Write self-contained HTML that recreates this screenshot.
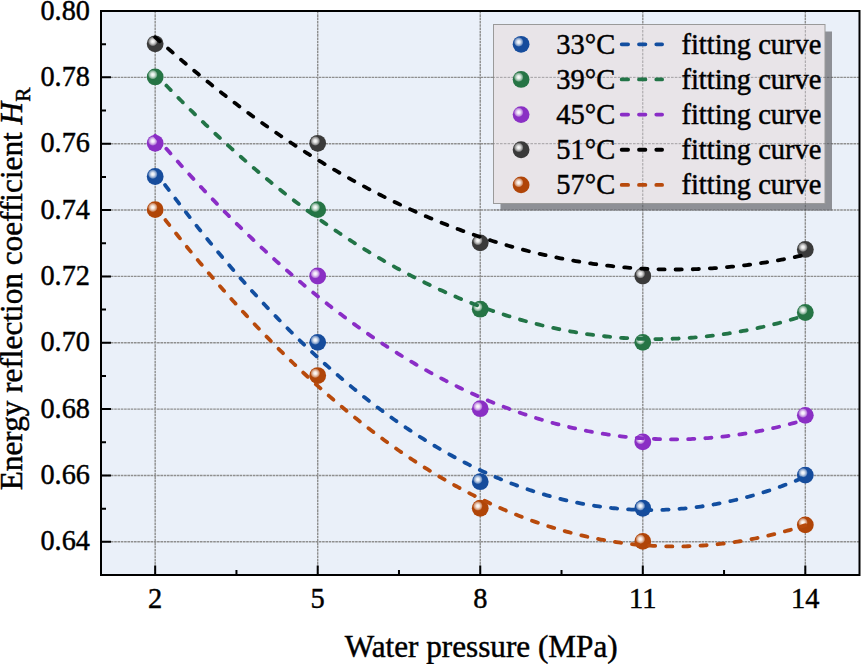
<!DOCTYPE html><html><head><meta charset="utf-8"><style>
html,body{margin:0;padding:0;background:#fff;}
svg{display:block;}
text{font-family:"Liberation Serif",serif;fill:#000;stroke:#000;stroke-width:0.45px;}
</style></head><body>
<svg width="861" height="664" viewBox="0 0 861 664">
<defs>
<radialGradient id="hl" cx="0.5" cy="0.5" r="0.5"><stop offset="0" stop-color="#fff"/><stop offset="0.35" stop-color="#fff" stop-opacity="0.85"/><stop offset="0.75" stop-color="#fff" stop-opacity="0.45"/><stop offset="1" stop-color="#fff" stop-opacity="0"/></radialGradient>
<clipPath id="lg"><rect x="493.5" y="24.5" width="339" height="186"/></clipPath>
</defs>
<rect x="101.0" y="11.0" width="758.5" height="564.0" fill="#EAF0F9"/>
<path d="M155.18,11.0V575.0M317.71,11.0V575.0M480.25,11.0V575.0M642.79,11.0V575.0M805.32,11.0V575.0M101.0,541.82H859.5M101.0,475.47H859.5M101.0,409.12H859.5M101.0,342.76H859.5M101.0,276.41H859.5M101.0,210.06H859.5M101.0,143.71H859.5M101.0,77.35H859.5" stroke="#8f8f8f" stroke-width="1.4" stroke-dasharray="2.6 0.7" fill="none"/>
<path d="M155.18,575.0v-9.5M317.71,575.0v-9.5M480.25,575.0v-9.5M642.79,575.0v-9.5M805.32,575.0v-9.5M236.45,575.0v-5M398.98,575.0v-5M561.52,575.0v-5M724.05,575.0v-5M101.0,541.82h10M101.0,475.47h10M101.0,409.12h10M101.0,342.76h10M101.0,276.41h10M101.0,210.06h10M101.0,143.71h10M101.0,77.35h10M101.0,11.00h10M101.0,575.00h5M101.0,508.65h5M101.0,442.29h5M101.0,375.94h5M101.0,309.59h5M101.0,243.24h5M101.0,176.88h5M101.0,110.53h5M101.0,44.18h5" stroke="#000" stroke-width="2" fill="none"/>
<circle cx="155.18" cy="176.48" r="8.4" fill="#164C9C"/><circle cx="152.78" cy="174.18" r="4.9" fill="url(#hl)"/>
<circle cx="317.71" cy="342.36" r="8.4" fill="#164C9C"/><circle cx="315.31" cy="340.06" r="4.9" fill="url(#hl)"/>
<circle cx="480.25" cy="481.71" r="8.4" fill="#164C9C"/><circle cx="477.85" cy="479.41" r="4.9" fill="url(#hl)"/>
<circle cx="642.79" cy="508.25" r="8.4" fill="#164C9C"/><circle cx="640.39" cy="505.95" r="4.9" fill="url(#hl)"/>
<circle cx="805.32" cy="475.07" r="8.4" fill="#164C9C"/><circle cx="802.92" cy="472.77" r="4.9" fill="url(#hl)"/>
<circle cx="155.18" cy="76.95" r="8.4" fill="#267445"/><circle cx="152.78" cy="74.65" r="4.9" fill="url(#hl)"/>
<circle cx="317.71" cy="209.66" r="8.4" fill="#267445"/><circle cx="315.31" cy="207.36" r="4.9" fill="url(#hl)"/>
<circle cx="480.25" cy="309.19" r="8.4" fill="#267445"/><circle cx="477.85" cy="306.89" r="4.9" fill="url(#hl)"/>
<circle cx="642.79" cy="342.36" r="8.4" fill="#267445"/><circle cx="640.39" cy="340.06" r="4.9" fill="url(#hl)"/>
<circle cx="805.32" cy="312.51" r="8.4" fill="#267445"/><circle cx="802.92" cy="310.21" r="4.9" fill="url(#hl)"/>
<circle cx="155.18" cy="143.31" r="8.4" fill="#8A2FC4"/><circle cx="152.78" cy="141.01" r="4.9" fill="url(#hl)"/>
<circle cx="317.71" cy="276.01" r="8.4" fill="#8A2FC4"/><circle cx="315.31" cy="273.71" r="4.9" fill="url(#hl)"/>
<circle cx="480.25" cy="408.72" r="8.4" fill="#8A2FC4"/><circle cx="477.85" cy="406.42" r="4.9" fill="url(#hl)"/>
<circle cx="642.79" cy="441.89" r="8.4" fill="#8A2FC4"/><circle cx="640.39" cy="439.59" r="4.9" fill="url(#hl)"/>
<circle cx="805.32" cy="415.35" r="8.4" fill="#8A2FC4"/><circle cx="802.92" cy="413.05" r="4.9" fill="url(#hl)"/>
<circle cx="155.18" cy="43.78" r="8.4" fill="#3A3A3A"/><circle cx="152.78" cy="41.48" r="4.9" fill="url(#hl)"/>
<circle cx="317.71" cy="143.31" r="8.4" fill="#3A3A3A"/><circle cx="315.31" cy="141.01" r="4.9" fill="url(#hl)"/>
<circle cx="480.25" cy="242.84" r="8.4" fill="#3A3A3A"/><circle cx="477.85" cy="240.54" r="4.9" fill="url(#hl)"/>
<circle cx="642.79" cy="276.01" r="8.4" fill="#3A3A3A"/><circle cx="640.39" cy="273.71" r="4.9" fill="url(#hl)"/>
<circle cx="805.32" cy="249.47" r="8.4" fill="#3A3A3A"/><circle cx="802.92" cy="247.17" r="4.9" fill="url(#hl)"/>
<circle cx="155.18" cy="209.66" r="8.4" fill="#B04508"/><circle cx="152.78" cy="207.36" r="4.9" fill="url(#hl)"/>
<circle cx="317.71" cy="375.54" r="8.4" fill="#B04508"/><circle cx="315.31" cy="373.24" r="4.9" fill="url(#hl)"/>
<circle cx="480.25" cy="508.25" r="8.4" fill="#B04508"/><circle cx="477.85" cy="505.95" r="4.9" fill="url(#hl)"/>
<circle cx="642.79" cy="541.42" r="8.4" fill="#B04508"/><circle cx="640.39" cy="539.12" r="4.9" fill="url(#hl)"/>
<circle cx="805.32" cy="524.84" r="8.4" fill="#B04508"/><circle cx="802.92" cy="522.54" r="4.9" fill="url(#hl)"/>
<path d="M165.04,184.93 L165.47,185.51 L167.64,188.40 L169.81,191.28 L171.97,194.15 L174.14,197.01 L176.31,199.85 L178.48,202.68 L180.64,205.50 L182.81,208.31 L184.98,211.10 L187.14,213.88 L189.31,216.64 L191.48,219.40 L193.65,222.14 L195.81,224.86 L197.98,227.58 L200.15,230.28 L202.31,232.97 L204.48,235.64 L206.65,238.30 L208.82,240.95 L210.98,243.59 L213.15,246.21 L215.32,248.82 L217.48,251.42 L219.65,254.00 L221.82,256.58 L223.99,259.13 L226.15,261.68 L228.32,264.21 L230.49,266.73 L232.65,269.24 L234.82,271.73 L236.99,274.21 L239.16,276.68 L241.32,279.13 L243.49,281.57 L245.66,284.00 L247.82,286.42 L249.99,288.82 L252.16,291.21 L254.33,293.59 L256.49,295.95 L258.66,298.30 L260.83,300.64 L262.99,302.96 L265.16,305.28 L267.33,307.57 L269.50,309.86 L271.66,312.13 L273.83,314.39 L276.00,316.64 L278.16,318.87 L280.33,321.09 L282.50,323.30 L284.67,325.50 L286.83,327.68 L289.00,329.85 L291.17,332.00 L293.33,334.15 L295.50,336.28 L297.67,338.39 L299.84,340.50 L302.00,342.59 L304.17,344.67 L306.34,346.73 L308.50,348.79 L310.67,350.82 L312.84,352.85 L315.01,354.86 L317.17,356.86 L319.34,358.85 L321.51,360.83 L323.67,362.79 L325.84,364.74 L328.01,366.67 L330.18,368.59 L332.34,370.50 L334.51,372.40 L336.68,374.28 L338.84,376.15 L341.01,378.01 L343.18,379.86 L345.35,381.69 L347.51,383.51 L349.68,385.31 L351.85,387.10 L354.01,388.88 L356.18,390.65 L358.35,392.40 L360.52,394.15 L362.68,395.87 L364.85,397.59 L367.02,399.29 L369.18,400.98 L371.35,402.66 L373.52,404.32 L375.69,405.97 L377.85,407.61 L380.02,409.23 L382.19,410.84 L384.35,412.44 L386.52,414.02 L388.69,415.60 L390.86,417.15 L393.02,418.70 L395.19,420.23 L397.36,421.75 L399.52,423.26 L401.69,424.76 L403.86,426.24 L406.03,427.71 L408.19,429.16 L410.36,430.60 L412.53,432.03 L414.69,433.45 L416.86,434.85 L419.03,436.24 L421.20,437.62 L423.36,438.98 L425.53,440.34 L427.70,441.67 L429.86,443.00 L432.03,444.31 L434.20,445.61 L436.37,446.90 L438.53,448.17 L440.70,449.43 L442.87,450.68 L445.03,451.92 L447.20,453.14 L449.37,454.35 L451.54,455.54 L453.70,456.73 L455.87,457.90 L458.04,459.05 L460.20,460.20 L462.37,461.33 L464.54,462.45 L466.71,463.55 L468.87,464.64 L471.04,465.72 L473.21,466.79 L475.37,467.84 L477.54,468.88 L479.71,469.91 L481.88,470.92 L484.04,471.92 L486.21,472.91 L488.38,473.89 L490.54,474.85 L492.71,475.80 L494.88,476.73 L497.05,477.66 L499.21,478.57 L501.38,479.47 L503.55,480.35 L505.71,481.22 L507.88,482.08 L510.05,482.93 L512.22,483.76 L514.38,484.58 L516.55,485.38 L518.72,486.18 L520.88,486.96 L523.05,487.73 L525.22,488.48 L527.39,489.22 L529.55,489.95 L531.72,490.67 L533.89,491.37 L536.05,492.06 L538.22,492.74 L540.39,493.40 L542.56,494.05 L544.72,494.69 L546.89,495.31 L549.06,495.93 L551.22,496.52 L553.39,497.11 L555.56,497.68 L557.73,498.24 L559.89,498.79 L562.06,499.32 L564.23,499.85 L566.39,500.35 L568.56,500.85 L570.73,501.33 L572.90,501.80 L575.06,502.26 L577.23,502.70 L579.40,503.13 L581.56,503.55 L583.73,503.95 L585.90,504.34 L588.07,504.72 L590.23,505.09 L592.40,505.44 L594.57,505.78 L596.73,506.10 L598.90,506.42 L601.07,506.72 L603.24,507.01 L605.40,507.28 L607.57,507.54 L609.74,507.79 L611.90,508.03 L614.07,508.25 L616.24,508.46 L618.41,508.66 L620.57,508.84 L622.74,509.01 L624.91,509.17 L627.07,509.31 L629.24,509.44 L631.41,509.56 L633.58,509.67 L635.74,509.76 L637.91,509.84 L640.08,509.91 L642.24,509.96 L644.41,510.00 L646.58,510.03 L648.75,510.05 L650.91,510.05 L653.08,510.04 L655.25,510.01 L657.41,509.98 L659.58,509.93 L661.75,509.86 L663.92,509.79 L666.08,509.70 L668.25,509.60 L670.42,509.48 L672.58,509.36 L674.75,509.22 L676.92,509.06 L679.09,508.89 L681.25,508.72 L683.42,508.52 L685.59,508.32 L687.75,508.10 L689.92,507.87 L692.09,507.62 L694.26,507.37 L696.42,507.09 L698.59,506.81 L700.76,506.51 L702.92,506.21 L705.09,505.88 L707.26,505.55 L709.43,505.20 L711.59,504.84 L713.76,504.46 L715.93,504.08 L718.09,503.68 L720.26,503.26 L722.43,502.84 L724.60,502.40 L726.76,501.95 L728.93,501.48 L731.10,501.00 L733.26,500.51 L735.43,500.01 L737.60,499.49 L739.77,498.96 L741.93,498.42 L744.10,497.86 L746.27,497.29 L748.43,496.71 L750.60,496.12 L752.77,495.51 L754.94,494.89 L757.10,494.25 L759.27,493.61 L761.44,492.95 L763.60,492.28 L765.77,491.59 L767.94,490.89 L770.11,490.18 L772.27,489.46 L774.44,488.72 L776.61,487.97 L778.77,487.20 L780.94,486.43 L783.11,485.64 L785.28,484.84 L787.44,484.02 L789.61,483.19 L791.78,482.35 L793.94,481.50 L796.11,480.63 L798.28,479.75 L800.45,478.85 L802.61,477.95 L804.78,477.03 L805.32,476.80" fill="none" stroke="#124EA0" stroke-width="3.8" stroke-linecap="round" stroke-dasharray="6.2 10.95"/>
<path d="M166.43,85.64 L166.56,85.77 L168.72,88.00 L170.89,90.23 L173.06,92.45 L175.22,94.66 L177.39,96.86 L179.56,99.05 L181.73,101.23 L183.89,103.40 L186.06,105.56 L188.23,107.71 L190.39,109.85 L192.56,111.98 L194.73,114.10 L196.90,116.21 L199.06,118.31 L201.23,120.40 L203.40,122.48 L205.56,124.55 L207.73,126.61 L209.90,128.66 L212.07,130.70 L214.23,132.73 L216.40,134.75 L218.57,136.76 L220.73,138.76 L222.90,140.75 L225.07,142.74 L227.24,144.71 L229.40,146.67 L231.57,148.62 L233.74,150.56 L235.90,152.49 L238.07,154.41 L240.24,156.32 L242.41,158.22 L244.57,160.12 L246.74,162.00 L248.91,163.87 L251.07,165.73 L253.24,167.58 L255.41,169.42 L257.58,171.25 L259.74,173.08 L261.91,174.89 L264.08,176.69 L266.24,178.48 L268.41,180.26 L270.58,182.04 L272.75,183.80 L274.91,185.55 L277.08,187.29 L279.25,189.02 L281.41,190.75 L283.58,192.46 L285.75,194.16 L287.92,195.85 L290.08,197.54 L292.25,199.21 L294.42,200.87 L296.58,202.52 L298.75,204.17 L300.92,205.80 L303.09,207.42 L305.25,209.03 L307.42,210.64 L309.59,212.23 L311.75,213.81 L313.92,215.39 L316.09,216.95 L318.26,218.50 L320.42,220.05 L322.59,221.58 L324.76,223.10 L326.92,224.62 L329.09,226.12 L331.26,227.61 L333.43,229.10 L335.59,230.57 L337.76,232.04 L339.93,233.49 L342.09,234.93 L344.26,236.37 L346.43,237.79 L348.60,239.20 L350.76,240.61 L352.93,242.00 L355.10,243.39 L357.26,244.76 L359.43,246.13 L361.60,247.48 L363.77,248.82 L365.93,250.16 L368.10,251.48 L370.27,252.80 L372.43,254.10 L374.60,255.40 L376.77,256.68 L378.94,257.96 L381.10,259.22 L383.27,260.48 L385.44,261.72 L387.60,262.96 L389.77,264.18 L391.94,265.40 L394.11,266.60 L396.27,267.80 L398.44,268.98 L400.61,270.16 L402.77,271.32 L404.94,272.48 L407.11,273.63 L409.28,274.76 L411.44,275.89 L413.61,277.00 L415.78,278.11 L417.94,279.21 L420.11,280.29 L422.28,281.37 L424.45,282.43 L426.61,283.49 L428.78,284.54 L430.95,285.57 L433.11,286.60 L435.28,287.61 L437.45,288.62 L439.62,289.62 L441.78,290.60 L443.95,291.58 L446.12,292.55 L448.28,293.50 L450.45,294.45 L452.62,295.39 L454.79,296.31 L456.95,297.23 L459.12,298.14 L461.29,299.04 L463.45,299.92 L465.62,300.80 L467.79,301.67 L469.96,302.52 L472.12,303.37 L474.29,304.21 L476.46,305.04 L478.62,305.85 L480.79,306.66 L482.96,307.46 L485.13,308.25 L487.29,309.02 L489.46,309.79 L491.63,310.55 L493.79,311.30 L495.96,312.04 L498.13,312.76 L500.30,313.48 L502.46,314.19 L504.63,314.89 L506.80,315.58 L508.96,316.25 L511.13,316.92 L513.30,317.58 L515.47,318.23 L517.63,318.87 L519.80,319.50 L521.97,320.12 L524.13,320.72 L526.30,321.32 L528.47,321.91 L530.64,322.49 L532.80,323.06 L534.97,323.62 L537.14,324.17 L539.30,324.71 L541.47,325.24 L543.64,325.76 L545.81,326.26 L547.97,326.76 L550.14,327.25 L552.31,327.73 L554.47,328.20 L556.64,328.66 L558.81,329.11 L560.98,329.55 L563.14,329.98 L565.31,330.40 L567.48,330.81 L569.64,331.21 L571.81,331.60 L573.98,331.98 L576.15,332.35 L578.31,332.71 L580.48,333.06 L582.65,333.40 L584.81,333.73 L586.98,334.05 L589.15,334.36 L591.32,334.66 L593.48,334.95 L595.65,335.23 L597.82,335.51 L599.98,335.77 L602.15,336.02 L604.32,336.26 L606.49,336.49 L608.65,336.71 L610.82,336.92 L612.99,337.12 L615.15,337.31 L617.32,337.49 L619.49,337.67 L621.66,337.83 L623.82,337.98 L625.99,338.12 L628.16,338.25 L630.32,338.37 L632.49,338.48 L634.66,338.59 L636.83,338.68 L638.99,338.76 L641.16,338.83 L643.33,338.89 L645.49,338.94 L647.66,338.99 L649.83,339.02 L652.00,339.04 L654.16,339.05 L656.33,339.06 L658.50,339.05 L660.66,339.03 L662.83,339.00 L665.00,338.96 L667.17,338.92 L669.33,338.86 L671.50,338.79 L673.67,338.72 L675.83,338.63 L678.00,338.53 L680.17,338.42 L682.34,338.31 L684.50,338.18 L686.67,338.04 L688.84,337.90 L691.00,337.74 L693.17,337.57 L695.34,337.40 L697.51,337.21 L699.67,337.01 L701.84,336.81 L704.01,336.59 L706.17,336.36 L708.34,336.13 L710.51,335.88 L712.68,335.62 L714.84,335.36 L717.01,335.08 L719.18,334.80 L721.34,334.50 L723.51,334.19 L725.68,333.88 L727.85,333.55 L730.01,333.22 L732.18,332.87 L734.35,332.51 L736.51,332.15 L738.68,331.77 L740.85,331.39 L743.02,330.99 L745.18,330.59 L747.35,330.17 L749.52,329.75 L751.68,329.31 L753.85,328.87 L756.02,328.41 L758.19,327.95 L760.35,327.47 L762.52,326.99 L764.69,326.49 L766.85,325.99 L769.02,325.47 L771.19,324.95 L773.36,324.41 L775.52,323.87 L777.69,323.31 L779.86,322.75 L782.02,322.17 L784.19,321.59 L786.36,320.99 L788.53,320.39 L790.69,319.78 L792.86,319.15 L795.03,318.52 L797.19,317.87 L799.36,317.22 L801.53,316.56 L803.70,315.88 L805.32,315.37" fill="none" stroke="#227447" stroke-width="3.8" stroke-linecap="round" stroke-dasharray="6.2 10.95"/>
<path d="M155.18,135.74 L155.18,135.74 L157.35,138.28 L159.51,140.80 L161.68,143.31 L163.85,145.82 L166.01,148.31 L168.18,150.79 L170.35,153.26 L172.52,155.72 L174.68,158.17 L176.85,160.60 L179.02,163.03 L181.18,165.45 L183.35,167.85 L185.52,170.25 L187.69,172.64 L189.85,175.01 L192.02,177.37 L194.19,179.73 L196.35,182.07 L198.52,184.40 L200.69,186.72 L202.86,189.03 L205.02,191.33 L207.19,193.62 L209.36,195.90 L211.52,198.17 L213.69,200.43 L215.86,202.68 L218.03,204.91 L220.19,207.14 L222.36,209.35 L224.53,211.56 L226.69,213.75 L228.86,215.94 L231.03,218.11 L233.20,220.27 L235.36,222.42 L237.53,224.56 L239.70,226.69 L241.86,228.81 L244.03,230.92 L246.20,233.02 L248.37,235.11 L250.53,237.19 L252.70,239.25 L254.87,241.31 L257.03,243.36 L259.20,245.39 L261.37,247.41 L263.54,249.43 L265.70,251.43 L267.87,253.42 L270.04,255.41 L272.20,257.38 L274.37,259.34 L276.54,261.29 L278.71,263.23 L280.87,265.15 L283.04,267.07 L285.21,268.98 L287.37,270.88 L289.54,272.76 L291.71,274.64 L293.88,276.50 L296.04,278.36 L298.21,280.20 L300.38,282.03 L302.54,283.86 L304.71,285.67 L306.88,287.47 L309.05,289.26 L311.21,291.04 L313.38,292.81 L315.55,294.57 L317.71,296.32 L319.88,298.06 L322.05,299.78 L324.22,301.50 L326.38,303.20 L328.55,304.90 L330.72,306.58 L332.88,308.26 L335.05,309.92 L337.22,311.57 L339.39,313.22 L341.55,314.85 L343.72,316.47 L345.89,318.08 L348.05,319.68 L350.22,321.27 L352.39,322.84 L354.56,324.41 L356.72,325.97 L358.89,327.52 L361.06,329.05 L363.22,330.58 L365.39,332.09 L367.56,333.60 L369.73,335.09 L371.89,336.57 L374.06,338.04 L376.23,339.51 L378.39,340.96 L380.56,342.40 L382.73,343.83 L384.90,345.25 L387.06,346.65 L389.23,348.05 L391.40,349.44 L393.56,350.82 L395.73,352.18 L397.90,353.54 L400.07,354.88 L402.23,356.22 L404.40,357.54 L406.57,358.85 L408.73,360.15 L410.90,361.45 L413.07,362.73 L415.24,364.00 L417.40,365.26 L419.57,366.51 L421.74,367.75 L423.90,368.97 L426.07,370.19 L428.24,371.40 L430.41,372.59 L432.57,373.78 L434.74,374.95 L436.91,376.12 L439.07,377.27 L441.24,378.41 L443.41,379.55 L445.58,380.67 L447.74,381.78 L449.91,382.88 L452.08,383.97 L454.24,385.05 L456.41,386.12 L458.58,387.18 L460.75,388.22 L462.91,389.26 L465.08,390.29 L467.25,391.30 L469.41,392.31 L471.58,393.30 L473.75,394.29 L475.92,395.26 L478.08,396.22 L480.25,397.17 L482.42,398.12 L484.58,399.05 L486.75,399.97 L488.92,400.88 L491.09,401.77 L493.25,402.66 L495.42,403.54 L497.59,404.41 L499.75,405.26 L501.92,406.11 L504.09,406.94 L506.26,407.77 L508.42,408.58 L510.59,409.39 L512.76,410.18 L514.92,410.96 L517.09,411.73 L519.26,412.49 L521.43,413.24 L523.59,413.98 L525.76,414.71 L527.93,415.43 L530.09,416.14 L532.26,416.84 L534.43,417.52 L536.60,418.20 L538.76,418.86 L540.93,419.52 L543.10,420.16 L545.26,420.80 L547.43,421.42 L549.60,422.03 L551.77,422.63 L553.93,423.22 L556.10,423.80 L558.27,424.37 L560.43,424.93 L562.60,425.48 L564.77,426.02 L566.94,426.55 L569.10,427.06 L571.27,427.57 L573.44,428.06 L575.60,428.55 L577.77,429.02 L579.94,429.49 L582.11,429.94 L584.27,430.38 L586.44,430.81 L588.61,431.24 L590.77,431.65 L592.94,432.05 L595.11,432.43 L597.28,432.81 L599.44,433.18 L601.61,433.54 L603.78,433.89 L605.94,434.22 L608.11,434.55 L610.28,434.86 L612.45,435.17 L614.61,435.46 L616.78,435.74 L618.95,436.02 L621.11,436.28 L623.28,436.53 L625.45,436.77 L627.62,437.00 L629.78,437.22 L631.95,437.43 L634.12,437.63 L636.28,437.81 L638.45,437.99 L640.62,438.16 L642.79,438.31 L644.95,438.46 L647.12,438.59 L649.29,438.72 L651.45,438.83 L653.62,438.93 L655.79,439.02 L657.96,439.11 L660.12,439.18 L662.29,439.24 L664.46,439.29 L666.62,439.33 L668.79,439.35 L670.96,439.37 L673.13,439.38 L675.29,439.37 L677.46,439.36 L679.63,439.34 L681.79,439.30 L683.96,439.25 L686.13,439.20 L688.30,439.13 L690.46,439.05 L692.63,438.96 L694.80,438.86 L696.96,438.76 L699.13,438.63 L701.30,438.50 L703.47,438.36 L705.63,438.21 L707.80,438.05 L709.97,437.87 L712.13,437.69 L714.30,437.50 L716.47,437.29 L718.64,437.07 L720.80,436.85 L722.97,436.61 L725.14,436.36 L727.30,436.10 L729.47,435.84 L731.64,435.56 L733.81,435.27 L735.97,434.97 L738.14,434.65 L740.31,434.33 L742.47,434.00 L744.64,433.66 L746.81,433.30 L748.98,432.94 L751.14,432.56 L753.31,432.18 L755.48,431.78 L757.64,431.37 L759.81,430.96 L761.98,430.53 L764.15,430.09 L766.31,429.64 L768.48,429.18 L770.65,428.71 L772.81,428.23 L774.98,427.74 L777.15,427.23 L779.32,426.72 L781.48,426.20 L783.65,425.66 L785.82,425.12 L787.98,424.56 L790.15,423.99 L792.32,423.42 L794.49,422.83 L796.65,422.23 L798.82,421.62 L800.99,421.00 L803.15,420.37 L805.32,419.73" fill="none" stroke="#8A2DC6" stroke-width="3.8" stroke-linecap="round" stroke-dasharray="6.2 10.95"/>
<path d="M155.18,37.16 L155.18,37.16 L157.35,39.10 L159.51,41.02 L161.68,42.94 L163.85,44.85 L166.01,46.75 L168.18,48.65 L170.35,50.54 L172.52,52.41 L174.68,54.28 L176.85,56.15 L179.02,58.00 L181.18,59.84 L183.35,61.68 L185.52,63.51 L187.69,65.33 L189.85,67.15 L192.02,68.95 L194.19,70.75 L196.35,72.54 L198.52,74.32 L200.69,76.09 L202.86,77.86 L205.02,79.61 L207.19,81.36 L209.36,83.10 L211.52,84.84 L213.69,86.56 L215.86,88.28 L218.03,89.99 L220.19,91.69 L222.36,93.38 L224.53,95.06 L226.69,96.74 L228.86,98.40 L231.03,100.06 L233.20,101.72 L235.36,103.36 L237.53,105.00 L239.70,106.62 L241.86,108.24 L244.03,109.85 L246.20,111.46 L248.37,113.05 L250.53,114.64 L252.70,116.22 L254.87,117.79 L257.03,119.35 L259.20,120.90 L261.37,122.45 L263.54,123.99 L265.70,125.52 L267.87,127.04 L270.04,128.56 L272.20,130.06 L274.37,131.56 L276.54,133.05 L278.71,134.53 L280.87,136.01 L283.04,137.47 L285.21,138.93 L287.37,140.38 L289.54,141.82 L291.71,143.25 L293.88,144.68 L296.04,146.09 L298.21,147.50 L300.38,148.90 L302.54,150.30 L304.71,151.68 L306.88,153.06 L309.05,154.43 L311.21,155.79 L313.38,157.14 L315.55,158.48 L317.71,159.82 L319.88,161.15 L322.05,162.47 L324.22,163.78 L326.38,165.08 L328.55,166.38 L330.72,167.67 L332.88,168.95 L335.05,170.22 L337.22,171.48 L339.39,172.74 L341.55,173.98 L343.72,175.22 L345.89,176.45 L348.05,177.68 L350.22,178.89 L352.39,180.10 L354.56,181.30 L356.72,182.49 L358.89,183.67 L361.06,184.84 L363.22,186.01 L365.39,187.17 L367.56,188.32 L369.73,189.46 L371.89,190.60 L374.06,191.72 L376.23,192.84 L378.39,193.95 L380.56,195.05 L382.73,196.14 L384.90,197.23 L387.06,198.31 L389.23,199.38 L391.40,200.44 L393.56,201.49 L395.73,202.53 L397.90,203.57 L400.07,204.60 L402.23,205.62 L404.40,206.63 L406.57,207.64 L408.73,208.63 L410.90,209.62 L413.07,210.60 L415.24,211.58 L417.40,212.54 L419.57,213.50 L421.74,214.44 L423.90,215.38 L426.07,216.31 L428.24,217.24 L430.41,218.15 L432.57,219.06 L434.74,219.96 L436.91,220.85 L439.07,221.74 L441.24,222.61 L443.41,223.48 L445.58,224.34 L447.74,225.19 L449.91,226.03 L452.08,226.86 L454.24,227.69 L456.41,228.51 L458.58,229.32 L460.75,230.12 L462.91,230.92 L465.08,231.70 L467.25,232.48 L469.41,233.25 L471.58,234.01 L473.75,234.77 L475.92,235.51 L478.08,236.25 L480.25,236.98 L482.42,237.70 L484.58,238.41 L486.75,239.12 L488.92,239.82 L491.09,240.51 L493.25,241.19 L495.42,241.86 L497.59,242.52 L499.75,243.18 L501.92,243.83 L504.09,244.47 L506.26,245.10 L508.42,245.73 L510.59,246.34 L512.76,246.95 L514.92,247.55 L517.09,248.14 L519.26,248.73 L521.43,249.30 L523.59,249.87 L525.76,250.43 L527.93,250.98 L530.09,251.53 L532.26,252.06 L534.43,252.59 L536.60,253.11 L538.76,253.62 L540.93,254.12 L543.10,254.62 L545.26,255.10 L547.43,255.58 L549.60,256.05 L551.77,256.51 L553.93,256.97 L556.10,257.42 L558.27,257.85 L560.43,258.28 L562.60,258.71 L564.77,259.12 L566.94,259.53 L569.10,259.92 L571.27,260.31 L573.44,260.70 L575.60,261.07 L577.77,261.43 L579.94,261.79 L582.11,262.14 L584.27,262.48 L586.44,262.82 L588.61,263.14 L590.77,263.46 L592.94,263.77 L595.11,264.07 L597.28,264.36 L599.44,264.65 L601.61,264.92 L603.78,265.19 L605.94,265.45 L608.11,265.70 L610.28,265.95 L612.45,266.18 L614.61,266.41 L616.78,266.63 L618.95,266.84 L621.11,267.05 L623.28,267.24 L625.45,267.43 L627.62,267.61 L629.78,267.78 L631.95,267.94 L634.12,268.10 L636.28,268.25 L638.45,268.39 L640.62,268.52 L642.79,268.64 L644.95,268.75 L647.12,268.86 L649.29,268.96 L651.45,269.05 L653.62,269.13 L655.79,269.21 L657.96,269.27 L660.12,269.33 L662.29,269.38 L664.46,269.42 L666.62,269.46 L668.79,269.48 L670.96,269.50 L673.13,269.51 L675.29,269.51 L677.46,269.50 L679.63,269.49 L681.79,269.47 L683.96,269.44 L686.13,269.40 L688.30,269.35 L690.46,269.30 L692.63,269.23 L694.80,269.16 L696.96,269.08 L699.13,268.99 L701.30,268.90 L703.47,268.79 L705.63,268.68 L707.80,268.56 L709.97,268.44 L712.13,268.30 L714.30,268.16 L716.47,268.00 L718.64,267.84 L720.80,267.67 L722.97,267.50 L725.14,267.31 L727.30,267.12 L729.47,266.92 L731.64,266.71 L733.81,266.49 L735.97,266.27 L738.14,266.04 L740.31,265.80 L742.47,265.55 L744.64,265.29 L746.81,265.02 L748.98,264.75 L751.14,264.47 L753.31,264.18 L755.48,263.88 L757.64,263.57 L759.81,263.26 L761.98,262.94 L764.15,262.61 L766.31,262.27 L768.48,261.92 L770.65,261.57 L772.81,261.21 L774.98,260.84 L777.15,260.46 L779.32,260.07 L781.48,259.68 L783.65,259.27 L785.82,258.86 L787.98,258.44 L790.15,258.02 L792.32,257.58 L794.49,257.14 L796.65,256.69 L798.82,256.23 L800.99,255.76 L803.15,255.28 L805.32,254.80" fill="none" stroke="#000000" stroke-width="3.8" stroke-linecap="round" stroke-dasharray="6.2 10.95"/>
<path d="M165.45,220.03 L165.47,220.06 L167.64,222.82 L169.81,225.58 L171.97,228.33 L174.14,231.06 L176.31,233.78 L178.48,236.49 L180.64,239.19 L182.81,241.88 L184.98,244.55 L187.14,247.22 L189.31,249.87 L191.48,252.51 L193.65,255.13 L195.81,257.75 L197.98,260.35 L200.15,262.95 L202.31,265.53 L204.48,268.10 L206.65,270.65 L208.82,273.20 L210.98,275.73 L213.15,278.25 L215.32,280.76 L217.48,283.26 L219.65,285.75 L221.82,288.22 L223.99,290.68 L226.15,293.13 L228.32,295.57 L230.49,298.00 L232.65,300.41 L234.82,302.82 L236.99,305.21 L239.16,307.59 L241.32,309.96 L243.49,312.31 L245.66,314.66 L247.82,316.99 L249.99,319.31 L252.16,321.62 L254.33,323.92 L256.49,326.20 L258.66,328.48 L260.83,330.74 L262.99,332.99 L265.16,335.23 L267.33,337.45 L269.50,339.67 L271.66,341.87 L273.83,344.06 L276.00,346.24 L278.16,348.41 L280.33,350.56 L282.50,352.71 L284.67,354.84 L286.83,356.96 L289.00,359.07 L291.17,361.17 L293.33,363.25 L295.50,365.32 L297.67,367.39 L299.84,369.44 L302.00,371.47 L304.17,373.50 L306.34,375.51 L308.50,377.52 L310.67,379.51 L312.84,381.48 L315.01,383.45 L317.17,385.41 L319.34,387.35 L321.51,389.28 L323.67,391.20 L325.84,393.11 L328.01,395.01 L330.18,396.89 L332.34,398.76 L334.51,400.62 L336.68,402.47 L338.84,404.31 L341.01,406.14 L343.18,407.95 L345.35,409.75 L347.51,411.54 L349.68,413.32 L351.85,415.09 L354.01,416.84 L356.18,418.58 L358.35,420.31 L360.52,422.03 L362.68,423.74 L364.85,425.44 L367.02,427.12 L369.18,428.79 L371.35,430.45 L373.52,432.10 L375.69,433.74 L377.85,435.36 L380.02,436.98 L382.19,438.58 L384.35,440.17 L386.52,441.75 L388.69,443.31 L390.86,444.87 L393.02,446.41 L395.19,447.94 L397.36,449.46 L399.52,450.96 L401.69,452.46 L403.86,453.94 L406.03,455.41 L408.19,456.87 L410.36,458.32 L412.53,459.76 L414.69,461.18 L416.86,462.59 L419.03,464.00 L421.20,465.38 L423.36,466.76 L425.53,468.13 L427.70,469.48 L429.86,470.82 L432.03,472.15 L434.20,473.47 L436.37,474.78 L438.53,476.07 L440.70,477.35 L442.87,478.63 L445.03,479.88 L447.20,481.13 L449.37,482.37 L451.54,483.59 L453.70,484.80 L455.87,486.00 L458.04,487.19 L460.20,488.37 L462.37,489.53 L464.54,490.69 L466.71,491.83 L468.87,492.96 L471.04,494.08 L473.21,495.18 L475.37,496.28 L477.54,497.36 L479.71,498.43 L481.88,499.49 L484.04,500.53 L486.21,501.57 L488.38,502.59 L490.54,503.60 L492.71,504.60 L494.88,505.59 L497.05,506.57 L499.21,507.53 L501.38,508.48 L503.55,509.43 L505.71,510.35 L507.88,511.27 L510.05,512.18 L512.22,513.07 L514.38,513.95 L516.55,514.82 L518.72,515.68 L520.88,516.53 L523.05,517.36 L525.22,518.18 L527.39,518.99 L529.55,519.79 L531.72,520.58 L533.89,521.36 L536.05,522.12 L538.22,522.87 L540.39,523.61 L542.56,524.34 L544.72,525.06 L546.89,525.76 L549.06,526.46 L551.22,527.14 L553.39,527.81 L555.56,528.46 L557.73,529.11 L559.89,529.74 L562.06,530.37 L564.23,530.98 L566.39,531.58 L568.56,532.16 L570.73,532.74 L572.90,533.30 L575.06,533.85 L577.23,534.39 L579.40,534.92 L581.56,535.44 L583.73,535.94 L585.90,536.43 L588.07,536.91 L590.23,537.38 L592.40,537.84 L594.57,538.28 L596.73,538.72 L598.90,539.14 L601.07,539.55 L603.24,539.95 L605.40,540.33 L607.57,540.71 L609.74,541.07 L611.90,541.42 L614.07,541.76 L616.24,542.09 L618.41,542.40 L620.57,542.71 L622.74,543.00 L624.91,543.28 L627.07,543.55 L629.24,543.80 L631.41,544.05 L633.58,544.28 L635.74,544.50 L637.91,544.71 L640.08,544.91 L642.24,545.10 L644.41,545.27 L646.58,545.43 L648.75,545.58 L650.91,545.72 L653.08,545.85 L655.25,545.96 L657.41,546.07 L659.58,546.16 L661.75,546.24 L663.92,546.31 L666.08,546.36 L668.25,546.41 L670.42,546.44 L672.58,546.46 L674.75,546.47 L676.92,546.46 L679.09,546.45 L681.25,546.42 L683.42,546.39 L685.59,546.34 L687.75,546.27 L689.92,546.20 L692.09,546.11 L694.26,546.02 L696.42,545.91 L698.59,545.79 L700.76,545.65 L702.92,545.51 L705.09,545.35 L707.26,545.19 L709.43,545.01 L711.59,544.81 L713.76,544.61 L715.93,544.39 L718.09,544.17 L720.26,543.93 L722.43,543.68 L724.60,543.42 L726.76,543.14 L728.93,542.86 L731.10,542.56 L733.26,542.25 L735.43,541.93 L737.60,541.59 L739.77,541.25 L741.93,540.89 L744.10,540.52 L746.27,540.14 L748.43,539.75 L750.60,539.35 L752.77,538.93 L754.94,538.50 L757.10,538.06 L759.27,537.61 L761.44,537.15 L763.60,536.67 L765.77,536.19 L767.94,535.69 L770.11,535.18 L772.27,534.66 L774.44,534.12 L776.61,533.58 L778.77,533.02 L780.94,532.45 L783.11,531.87 L785.28,531.28 L787.44,530.67 L789.61,530.06 L791.78,529.43 L793.94,528.79 L796.11,528.14 L798.28,527.47 L800.45,526.80 L802.61,526.11 L804.78,525.41 L805.32,525.24" fill="none" stroke="#B84A0C" stroke-width="3.8" stroke-linecap="round" stroke-dasharray="6.2 10.95"/>
<rect x="101.0" y="11.0" width="758.5" height="564.0" fill="none" stroke="#000" stroke-width="2"/>
<rect x="500.5" y="31.5" width="331.5" height="179.0" fill="#8E9096"/>
<rect x="493.5" y="24.5" width="331.5" height="179.0" fill="#E8E4E8" stroke="#9a9a9a" stroke-width="1"/>
<path d="M155.18,11.0V575.0M317.71,11.0V575.0M480.25,11.0V575.0M642.79,11.0V575.0M805.32,11.0V575.0M101.0,541.82H859.5M101.0,475.47H859.5M101.0,409.12H859.5M101.0,342.76H859.5M101.0,276.41H859.5M101.0,210.06H859.5M101.0,143.71H859.5M101.0,77.35H859.5" clip-path="url(#lg)" stroke="#000" stroke-opacity="0.3" stroke-width="1" stroke-dasharray="2.6 1.2" fill="none"/>
<circle cx="521.10" cy="44.30" r="8.4" fill="#164C9C"/><circle cx="518.70" cy="42.00" r="4.9" fill="url(#hl)"/>
<text x="556.3" y="53.50" font-size="28.5">33°C</text>
<path d="M621.7,44.30H662.1" stroke="#124EA0" stroke-width="3.8" stroke-linecap="round" stroke-dasharray="6.4 10.9"/>
<text x="681.4" y="53.50" font-size="28.5">fitting curve</text>
<circle cx="521.10" cy="79.45" r="8.4" fill="#267445"/><circle cx="518.70" cy="77.15" r="4.9" fill="url(#hl)"/>
<text x="556.3" y="88.65" font-size="28.5">39°C</text>
<path d="M621.7,79.45H662.1" stroke="#227447" stroke-width="3.8" stroke-linecap="round" stroke-dasharray="6.4 10.9"/>
<text x="681.4" y="88.65" font-size="28.5">fitting curve</text>
<circle cx="521.10" cy="114.60" r="8.4" fill="#8A2FC4"/><circle cx="518.70" cy="112.30" r="4.9" fill="url(#hl)"/>
<text x="556.3" y="123.80" font-size="28.5">45°C</text>
<path d="M621.7,114.60H662.1" stroke="#8A2DC6" stroke-width="3.8" stroke-linecap="round" stroke-dasharray="6.4 10.9"/>
<text x="681.4" y="123.80" font-size="28.5">fitting curve</text>
<circle cx="521.10" cy="149.75" r="8.4" fill="#3A3A3A"/><circle cx="518.70" cy="147.45" r="4.9" fill="url(#hl)"/>
<text x="556.3" y="158.95" font-size="28.5">51°C</text>
<path d="M621.7,149.75H662.1" stroke="#000000" stroke-width="3.8" stroke-linecap="round" stroke-dasharray="6.4 10.9"/>
<text x="681.4" y="158.95" font-size="28.5">fitting curve</text>
<circle cx="521.10" cy="184.90" r="8.4" fill="#B04508"/><circle cx="518.70" cy="182.60" r="4.9" fill="url(#hl)"/>
<text x="556.3" y="194.10" font-size="28.5">57°C</text>
<path d="M621.7,184.90H662.1" stroke="#B84A0C" stroke-width="3.8" stroke-linecap="round" stroke-dasharray="6.4 10.9"/>
<text x="681.4" y="194.10" font-size="28.5">fitting curve</text>
<text transform="translate(89.9,550.42) scale(0.965,1.02)" font-size="29.3" text-anchor="end">0.64</text>
<text transform="translate(89.9,484.07) scale(0.965,1.02)" font-size="29.3" text-anchor="end">0.66</text>
<text transform="translate(89.9,417.72) scale(0.965,1.02)" font-size="29.3" text-anchor="end">0.68</text>
<text transform="translate(89.9,351.36) scale(0.965,1.02)" font-size="29.3" text-anchor="end">0.70</text>
<text transform="translate(89.9,285.01) scale(0.965,1.02)" font-size="29.3" text-anchor="end">0.72</text>
<text transform="translate(89.9,218.66) scale(0.965,1.02)" font-size="29.3" text-anchor="end">0.74</text>
<text transform="translate(89.9,152.31) scale(0.965,1.02)" font-size="29.3" text-anchor="end">0.76</text>
<text transform="translate(89.9,85.95) scale(0.965,1.02)" font-size="29.3" text-anchor="end">0.78</text>
<text transform="translate(89.9,19.60) scale(0.965,1.02)" font-size="29.3" text-anchor="end">0.80</text>
<text transform="translate(155.18,607.8) scale(0.97,1.03)" font-size="29.3" text-anchor="middle">2</text>
<text transform="translate(317.71,607.8) scale(0.97,1.03)" font-size="29.3" text-anchor="middle">5</text>
<text transform="translate(480.25,607.8) scale(0.97,1.03)" font-size="29.3" text-anchor="middle">8</text>
<text transform="translate(642.79,607.8) scale(0.97,1.03)" font-size="29.3" text-anchor="middle">11</text>
<text transform="translate(805.32,607.8) scale(0.97,1.03)" font-size="29.3" text-anchor="middle">14</text>
<text x="344.8" y="657" font-size="31.2">Water pressure (MPa)</text>
<text transform="translate(21.8,490.3) rotate(-90)" font-size="31.25">Energy reflection coefficient <tspan font-style="italic">H</tspan><tspan font-size="21.5" dy="8">R</tspan></text>
</svg></body></html>
